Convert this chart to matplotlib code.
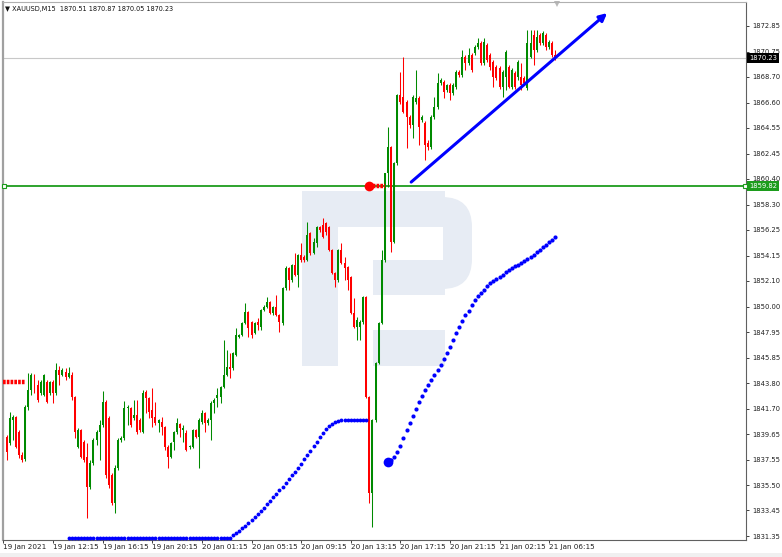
import matplotlib
matplotlib.use("Agg")
import matplotlib.pyplot as plt
from matplotlib.patches import Rectangle, FancyBboxPatch
from matplotlib.transforms import Affine2D, blended_transform_factory

# ── chart data (XAUUSD M15, bar 0 = 19 Jan 08:15) ───────────────────────────
TITLE = "\u25bc XAUUSD,M15  1870.51 1870.87 1870.05 1870.23"

OPEN = [
    1838.36, 1839.41, 1838.92, 1840.80, 1841.04, 1839.82, 1837.95, 1837.62, 1841.85, 1843.23,
    1844.45, 1843.64, 1842.99, 1842.83, 1843.88, 1842.99, 1843.88, 1842.99, 1844.86, 1844.45,
    1844.70, 1844.29, 1844.45, 1842.66, 1838.60, 1839.98, 1839.01, 1837.79, 1835.35, 1837.30,
    1839.17, 1839.82, 1840.39, 1842.26, 1840.96, 1836.32, 1834.05, 1836.89, 1839.17, 1839.33,
    1841.77, 1841.77, 1840.96, 1841.20, 1840.80, 1839.82, 1843.07, 1842.58, 1841.61, 1841.04,
    1840.55, 1840.63, 1840.22, 1838.60, 1837.79, 1839.01, 1839.82, 1840.47, 1839.98, 1839.74,
    1838.60, 1838.60, 1839.98, 1839.41, 1840.63, 1841.36, 1840.55, 1840.80, 1842.18, 1842.58,
    1842.66, 1843.48, 1844.45, 1845.10, 1845.02, 1846.08, 1847.54, 1847.70, 1848.68, 1849.58,
    1848.76, 1847.87, 1848.76, 1848.36, 1849.74, 1849.98, 1850.39, 1849.49, 1849.98, 1849.33,
    1848.68, 1851.53, 1853.15, 1852.18, 1853.40, 1852.58, 1854.21, 1854.05, 1853.80, 1856.00,
    1854.37, 1855.18, 1856.49, 1856.65, 1856.81, 1856.49, 1854.62, 1852.74, 1852.18, 1854.62,
    1853.56, 1853.23, 1852.42, 1849.49, 1848.36, 1848.36, 1848.76, 1850.79, 1842.66, 1834.86,
    1840.80, 1845.43, 1848.68, 1853.80, 1860.87, 1862.99, 1855.26, 1861.69, 1867.22, 1867.05,
    1866.65, 1865.43, 1864.78, 1866.65, 1866.97, 1865.18, 1864.94, 1863.31, 1862.99, 1865.43,
    1866.24, 1868.19, 1868.27, 1867.62, 1868.03, 1867.38, 1867.87, 1869.09, 1868.84, 1870.31,
    1869.82, 1870.47, 1870.63, 1871.12, 1871.44, 1869.82, 1871.28, 1870.47, 1869.90, 1869.49,
    1869.41, 1867.87, 1868.68, 1869.49, 1867.87, 1869.01, 1868.68, 1868.68, 1868.60, 1867.79,
    1870.31, 1872.09, 1870.87, 1872.09, 1871.44, 1872.09, 1871.12, 1871.44, 1870.51,
]
HIGH = [
    1839.57, 1839.57, 1841.44, 1841.20, 1841.12, 1839.98, 1838.19, 1842.01, 1844.62, 1844.62,
    1844.53, 1844.05, 1844.05, 1844.53, 1844.05, 1843.96, 1844.05, 1845.43, 1845.18, 1845.02,
    1845.02, 1845.10, 1844.70, 1842.75, 1840.14, 1840.06, 1839.17, 1838.92, 1837.54, 1839.33,
    1839.98, 1840.80, 1843.15, 1842.42, 1841.12, 1836.49, 1837.14, 1839.33, 1839.49, 1842.34,
    1842.01, 1841.85, 1842.42, 1842.42, 1840.96, 1843.23, 1843.23, 1842.66, 1843.40, 1842.26,
    1840.87, 1841.04, 1840.30, 1838.76, 1839.01, 1839.90, 1840.96, 1840.55, 1840.39, 1839.98,
    1838.76, 1840.06, 1840.06, 1840.96, 1841.61, 1841.44, 1840.96, 1842.34, 1842.58, 1843.40,
    1843.56, 1847.30, 1846.49, 1846.24, 1846.32, 1848.27, 1847.79, 1848.76, 1850.31, 1849.66,
    1848.84, 1848.76, 1849.09, 1849.82, 1850.14, 1850.79, 1850.47, 1850.06, 1850.96, 1849.41,
    1851.61, 1853.31, 1853.23, 1853.48, 1854.37, 1854.29, 1855.18, 1854.21, 1856.89, 1856.08,
    1855.59, 1856.57, 1856.57, 1857.22, 1856.89, 1856.57, 1854.70, 1852.83, 1854.70, 1855.18,
    1854.05, 1853.31, 1852.50, 1850.71, 1849.17, 1848.93, 1850.88, 1850.88, 1842.75, 1840.87,
    1845.51, 1848.76, 1854.62, 1860.87, 1864.61, 1863.07, 1861.77, 1867.30, 1869.09, 1870.31,
    1866.81, 1865.59, 1867.22, 1869.25, 1867.14, 1865.59, 1865.10, 1863.56, 1865.59, 1867.05,
    1869.01, 1868.60, 1868.44, 1868.11, 1868.19, 1868.19, 1869.25, 1869.25, 1870.87, 1870.47,
    1871.04, 1870.63, 1871.28, 1871.85, 1871.61, 1871.85, 1871.44, 1870.63, 1870.06, 1869.66,
    1869.57, 1869.25, 1870.87, 1869.66, 1869.41, 1869.17, 1870.06, 1869.82, 1868.76, 1872.50,
    1872.50, 1872.50, 1872.50, 1872.26, 1872.42, 1872.26, 1871.69, 1871.61, 1870.87,
]
LOW = [
    1837.38, 1837.54, 1838.76, 1839.17, 1838.52, 1837.70, 1837.38, 1837.46, 1841.61, 1842.83,
    1842.99, 1842.26, 1842.83, 1842.75, 1842.18, 1842.83, 1842.18, 1842.83, 1843.64, 1844.37,
    1844.05, 1844.21, 1842.42, 1839.33, 1838.52, 1837.70, 1837.38, 1832.83, 1835.18, 1837.14,
    1838.76, 1837.54, 1840.22, 1836.08, 1835.27, 1833.88, 1833.23, 1836.73, 1839.01, 1839.17,
    1840.39, 1840.22, 1840.80, 1839.66, 1839.82, 1839.74, 1841.36, 1840.96, 1840.22, 1840.39,
    1839.82, 1839.57, 1838.36, 1836.89, 1837.70, 1838.36, 1839.66, 1839.41, 1839.01, 1838.27,
    1838.44, 1838.52, 1839.33, 1836.89, 1840.47, 1839.82, 1840.39, 1839.17, 1841.36, 1841.85,
    1842.18, 1843.40, 1844.37, 1844.21, 1844.86, 1846.00, 1847.46, 1847.62, 1848.60, 1847.54,
    1847.46, 1847.79, 1848.11, 1848.11, 1849.66, 1849.90, 1849.41, 1849.33, 1849.25, 1847.95,
    1848.52, 1851.36, 1851.36, 1852.01, 1852.50, 1851.61, 1853.64, 1853.64, 1853.72, 1854.21,
    1854.29, 1854.86, 1856.08, 1855.59, 1855.83, 1854.53, 1852.66, 1851.61, 1852.01, 1853.48,
    1852.18, 1851.36, 1849.41, 1848.27, 1847.30, 1847.30, 1848.60, 1842.58, 1834.05, 1832.09,
    1840.63, 1845.35, 1848.60, 1853.64, 1859.74, 1854.45, 1855.18, 1861.53, 1866.48, 1865.75,
    1862.91, 1864.53, 1863.72, 1866.48, 1863.15, 1865.02, 1861.93, 1862.75, 1862.83, 1865.27,
    1866.08, 1868.03, 1866.97, 1867.46, 1866.81, 1867.22, 1867.70, 1868.68, 1868.68, 1869.25,
    1869.66, 1869.09, 1870.47, 1870.96, 1869.66, 1869.66, 1869.90, 1869.25, 1867.87, 1868.44,
    1867.70, 1867.05, 1867.62, 1867.79, 1867.70, 1867.70, 1868.44, 1867.62, 1868.03, 1867.62,
    1870.22, 1869.66, 1870.71, 1871.28, 1871.28, 1870.87, 1870.96, 1870.31, 1870.05,
]
CLOSE = [
    1839.41, 1838.19, 1840.96, 1841.04, 1838.60, 1837.95, 1837.54, 1841.85, 1843.23, 1844.45,
    1843.07, 1842.42, 1843.88, 1844.45, 1842.26, 1843.88, 1842.99, 1844.86, 1844.45, 1844.86,
    1844.29, 1844.62, 1842.66, 1839.82, 1839.98, 1837.79, 1837.54, 1835.35, 1837.30, 1839.17,
    1839.82, 1840.39, 1842.26, 1836.32, 1835.51, 1834.05, 1836.89, 1839.17, 1839.33, 1841.77,
    1841.85, 1840.39, 1841.20, 1839.82, 1839.98, 1842.99, 1842.58, 1841.44, 1840.96, 1840.55,
    1840.80, 1840.22, 1838.60, 1837.79, 1838.92, 1839.82, 1840.55, 1840.14, 1840.14, 1838.36,
    1838.68, 1839.98, 1839.41, 1840.80, 1841.36, 1840.55, 1840.80, 1842.18, 1842.42, 1842.83,
    1843.48, 1844.45, 1845.10, 1844.94, 1846.24, 1847.70, 1847.70, 1848.68, 1849.58, 1848.27,
    1847.70, 1848.68, 1848.52, 1849.74, 1849.98, 1850.39, 1849.49, 1849.98, 1849.33, 1848.76,
    1851.53, 1853.15, 1852.18, 1853.40, 1852.58, 1854.21, 1853.80, 1853.80, 1855.83, 1854.37,
    1855.26, 1856.49, 1856.24, 1855.67, 1856.08, 1854.62, 1852.74, 1852.18, 1854.62, 1853.56,
    1853.15, 1852.18, 1849.49, 1848.36, 1848.93, 1848.76, 1850.79, 1842.66, 1834.86, 1840.80,
    1845.43, 1848.68, 1853.80, 1860.87, 1862.99, 1855.26, 1861.69, 1867.22, 1866.65, 1865.83,
    1865.43, 1864.78, 1867.05, 1866.97, 1864.61, 1865.43, 1863.15, 1862.99, 1865.43, 1866.24,
    1868.19, 1868.44, 1867.46, 1868.03, 1867.38, 1868.03, 1869.09, 1868.84, 1870.31, 1869.82,
    1870.47, 1869.25, 1871.12, 1871.44, 1869.82, 1871.53, 1870.06, 1869.49, 1868.68, 1868.60,
    1867.87, 1869.09, 1870.71, 1867.87, 1869.25, 1867.87, 1869.90, 1868.03, 1868.19, 1871.44,
    1871.44, 1870.87, 1871.93, 1871.44, 1872.26, 1871.12, 1871.53, 1870.47, 1870.23,
]

# blue dotted indicator: two runs (first bar index, values)
BLUE_START_1 = 21
BLUE_VALUES_1 = [1831.20] * 53 + [
    1831.44, 1831.61, 1831.77, 1832.01, 1832.18, 1832.42, 1832.67, 1832.91, 1833.15, 1833.40,
    1833.64, 1833.97, 1834.21, 1834.53, 1834.78, 1835.11, 1835.35, 1835.67, 1836.00, 1836.32,
    1836.57, 1836.89, 1837.22, 1837.62, 1837.95, 1838.27, 1838.68, 1839.01, 1839.41, 1839.74,
    1840.06, 1840.30, 1840.47, 1840.63, 1840.71, 1840.80, 1840.80, 1840.80, 1840.80, 1840.80,
    1840.80, 1840.80, 1840.80, 1840.80,
]
BLUE_START_2 = 124
BLUE_VALUES_2 = [
    1837.38, 1837.54, 1837.79, 1838.19, 1838.68, 1839.33, 1839.98, 1840.55, 1841.12, 1841.69,
    1842.26, 1842.75, 1843.23, 1843.64, 1844.05, 1844.45, 1844.86, 1845.27, 1845.75, 1846.24,
    1846.73, 1847.30, 1847.87, 1848.36, 1848.84, 1849.33, 1849.66, 1850.14, 1850.55, 1850.88,
    1851.12, 1851.36, 1851.69, 1851.93, 1852.09, 1852.26, 1852.42, 1852.58, 1852.83, 1852.99,
    1853.15, 1853.31, 1853.40, 1853.56, 1853.72, 1853.88, 1854.05, 1854.21, 1854.45, 1854.62,
    1854.86, 1855.02, 1855.26, 1855.43, 1855.67,
]
# red dotted indicator runs
RED_START_1 = 0
RED_VALUES_1 = [1843.88] * 8
RED_START_2 = 118
RED_VALUES_2 = [1859.82] * 6

LEVEL = 1859.82        # green horizontal level
BID = 1870.23          # current price
TREND_FROM = (131.5, 1860.14)
TREND_TO = (194.7, 1873.88)

PRICE_TICKS = [1872.85, 1870.75, 1868.70, 1866.60, 1864.55, 1862.45, 1860.40, 1858.30,
               1856.25, 1854.15, 1852.10, 1850.00, 1847.95, 1845.85, 1843.80, 1841.70,
               1839.65, 1837.55, 1835.50, 1833.45, 1831.35]
TIME_TICKS = [0, 16, 32, 48, 64, 80, 96, 112, 128, 144, 160, 176]
TIME_LABELS = ["19 Jan 2021", "19 Jan 12:15", "19 Jan 16:15", "19 Jan 20:15",
               "20 Jan 01:15", "20 Jan 05:15", "20 Jan 09:15", "20 Jan 13:15",
               "20 Jan 17:15", "20 Jan 21:15", "21 Jan 02:15", "21 Jan 06:15"]

BULL = "#008a00"
BEAR = "#ff0000"
LEVEL_GREEN = "#1c9c1c"
LOGO = "#e7ecf4"

W, H = 782, 557
fig = plt.figure(figsize=(W / 100, H / 100), dpi=100)
fig.patch.set_facecolor("white")
ax = fig.add_axes([3 / W, 1 - 539.5 / H, 743 / W, 537.5 / H])
px = Affine2D().scale(1 / W, -1 / H).translate(0, 1) + fig.transFigure

# watermark logo (image pixel coords)
for (x0, y0, x1, y1) in [(302, 191, 338, 366), (302, 191, 445, 227),
                         (373, 260, 445, 295), (373, 330, 445, 366)]:
    ax.add_patch(Rectangle((x0, y0), x1 - x0, y1 - y0, transform=px, fc=LOGO,
                           ec="none", zorder=0.2, clip_on=False))
ax.add_patch(FancyBboxPatch((400, 197), 72, 92, boxstyle="round,pad=0,rounding_size=30",
                            transform=px, fc=LOGO, ec="none", zorder=0.2, clip_on=False))
ax.add_patch(Rectangle((373, 227), 70, 33, transform=px, fc="white", ec="none",
                       zorder=0.25, clip_on=False))

# candles
xs = list(range(len(CLOSE)))
cols = [BULL if c >= o else BEAR for o, c in zip(OPEN, CLOSE)]
ax.vlines(xs, LOW, HIGH, colors=cols, lw=0.75, zorder=2)
bottoms = [min(o, c) for o, c in zip(OPEN, CLOSE)]
heights = [max(abs(c - o), 0.07) for o, c in zip(OPEN, CLOSE)]
ax.bar(xs, heights, bottom=bottoms, width=0.62, color=cols, linewidth=0, zorder=2)

# horizontal levels
ax.axhline(BID, color="#c8c8c8", lw=0.8, zorder=1)
ax.axhline(LEVEL, color=LEVEL_GREEN, lw=1.3, zorder=1.5)
ax.plot([0.002, 0.998], [LEVEL, LEVEL], transform=blended_transform_factory(ax.transAxes, ax.transData),
        ls="none", marker="s", ms=3, mfc="white", mec=LEVEL_GREEN, mew=0.8, clip_on=False, zorder=3)

# indicators
b1 = list(range(BLUE_START_1, BLUE_START_1 + len(BLUE_VALUES_1)))
b2 = list(range(BLUE_START_2, BLUE_START_2 + len(BLUE_VALUES_2)))
ax.plot(b1, BLUE_VALUES_1, ls="none", marker="o", ms=2.8, color="#0000ff", mew=0, zorder=3)
ax.plot(b2, BLUE_VALUES_2, ls="none", marker="o", ms=3.0, color="#0000ff", mew=0, zorder=3)
ax.plot([b2[0]], [BLUE_VALUES_2[0]], marker="o", ms=7, color="#0000ff", mew=0, zorder=3)
r1 = list(range(RED_START_1, RED_START_1 + len(RED_VALUES_1)))
r2 = list(range(RED_START_2, RED_START_2 + len(RED_VALUES_2)))
ax.plot(r1, RED_VALUES_1, color="#ff0000", lw=3.2, ls=(0, (0.6, 0.25)), zorder=3)
ax.plot(r2, RED_VALUES_2, color="#ff0000", lw=3.2, ls=(0, (0.6, 0.25)), zorder=3)
ax.plot([r2[0]], [RED_VALUES_2[0]], marker="o", ms=7, color="#ff0000", mew=0, zorder=3)

# trend arrow
ax.annotate("", xy=TREND_TO, xytext=TREND_FROM,
            arrowprops=dict(arrowstyle="-|>", color="#0000ff", lw=2.2,
                            mutation_scale=11, shrinkA=0, shrinkB=0), zorder=4)

# axes
ax.set_xlim(-0.16, 239.5)
ax.set_ylim(1831.08, 1874.78)
ax.yaxis.tick_right()
ax.set_yticks(PRICE_TICKS, [f"{v:.2f}" for v in PRICE_TICKS])
ax.set_xticks(TIME_TICKS, TIME_LABELS)
for lbl in ax.get_xticklabels():
    lbl.set_ha("left")
ax.tick_params(axis="y", length=2.5, width=0.6, pad=2, labelsize=4.9, colors="#202020")
ax.tick_params(axis="x", length=2.5, width=0.6, pad=1, labelsize=5.2, colors="#202020")
for side, sp in ax.spines.items():
    sp.set_color("#606060")
    sp.set_linewidth(0.8)
ax.spines["left"].set_color("#a0a0a0")
ax.spines["left"].set_linewidth(1.6)
ax.spines["top"].set_color("#b0b0b0")

# price boxes on the right axis
ytrans = blended_transform_factory(fig.transFigure, ax.transData)
ax.text(749 / W, BID, f"{BID:.2f}", transform=ytrans, color="white", fontsize=4.9,
        va="center", ha="left", clip_on=False, zorder=6,
        bbox=dict(boxstyle="square,pad=0.35", fc="black", ec="none"))
ax.text(749 / W, LEVEL, f"{LEVEL:.2f}", transform=ytrans, color="white", fontsize=4.9,
        va="center", ha="left", clip_on=False, zorder=6,
        bbox=dict(boxstyle="square,pad=0.35", fc=LEVEL_GREEN, ec="none"))

# title and chart-shift marker
fig.text(5 / W, 1 - 8.5 / H, TITLE, fontsize=4.7, va="center", ha="left", color="#101010")
ax.plot([557], [4], transform=px, marker="v", ms=4, color="#b8b8b8", mew=0, clip_on=False)
ax.add_patch(Rectangle((0, 553), W, 4, transform=px, fc="#f0f0f0", ec="none", clip_on=False))

fig.savefig("out.png", dpi=100, facecolor="white")
